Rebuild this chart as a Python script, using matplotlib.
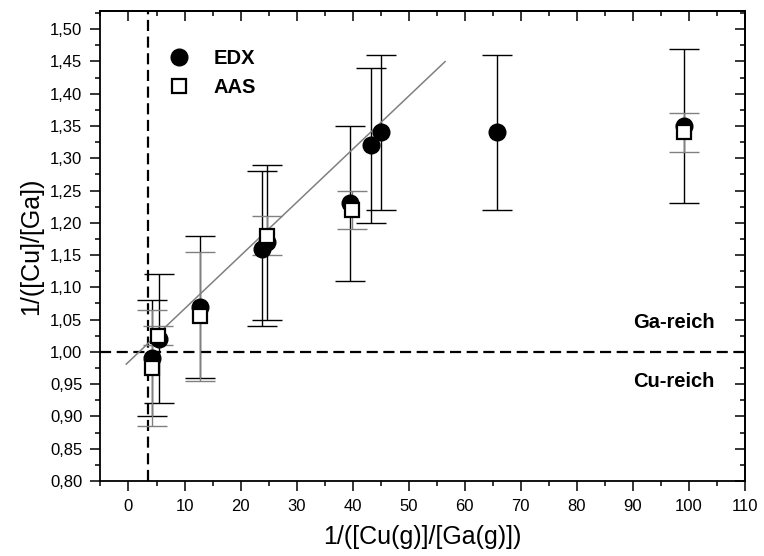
import matplotlib
matplotlib.use("Agg")
import numpy as np
import matplotlib.pyplot as plt
from matplotlib.ticker import MultipleLocator, FuncFormatter

# EDX measurements: gas-phase ratio vs. layer ratio, with y uncertainty
edx_x = [4.2, 5.4, 12.8, 23.8, 24.8, 39.6, 43.2, 45.0, 65.8, 99.2]
edx_y = [0.99, 1.02, 1.07, 1.16, 1.17, 1.23, 1.32, 1.34, 1.34, 1.35]
edx_err = [0.09, 0.10, 0.11, 0.12, 0.12, 0.12, 0.12, 0.12, 0.12, 0.12]

# AAS measurements
aas_x = [4.2, 5.2, 12.8, 24.8, 39.8, 99.2]
aas_y = [0.975, 1.025, 1.055, 1.18, 1.22, 1.34]
aas_err = [0.09, 0.015, 0.10, 0.03, 0.03, 0.03]

# linear fit of the low-ratio region
fit_intercept = 0.9843
fit_slope = 0.00824
fit_x_range = [-0.4, 56.5]

# stoichiometry reference lines
stoich_y = 1.0
stoich_x = 3.4

region_labels = ["Ga-reich", "Cu-reich"]
region_label_y = [1.046, 0.954]
region_label_x = 90.0

plt.rcParams["font.family"] = ["Liberation Sans", "DejaVu Sans"]

fig = plt.figure(figsize=(7.64, 5.56), dpi=100)
ax = fig.add_axes([0.1315, 0.135, 0.8435, 0.845])

cap = 10.5
ax.errorbar(edx_x, edx_y, yerr=edx_err, fmt="none", ecolor="black",
            elinewidth=1.0, capsize=cap, capthick=1.0, zorder=2)
ax.errorbar(aas_x, aas_y, yerr=aas_err, fmt="none", ecolor="#808080",
            elinewidth=1.0, capsize=cap, capthick=1.0, zorder=2)

fx = np.array(fit_x_range)
ax.plot(fx, fit_intercept + fit_slope * fx, color="#808080", lw=1.1, zorder=3)

ax.axhline(stoich_y, color="black", lw=1.6, ls=(0, (5, 2.5)), zorder=1)
ax.axvline(stoich_x, color="black", lw=1.6, ls=(0, (5, 2.5)), zorder=1)

ax.plot(edx_x, edx_y, "o", ms=12, color="black", mec="black", zorder=4,
        label="EDX")
ax.plot(aas_x, aas_y, "s", ms=10.5, mfc="white", mec="black", mew=1.6,
        zorder=5, label="AAS")

for txt, yy in zip(region_labels, region_label_y):
    ax.text(region_label_x, yy, txt, fontsize=14.5, fontweight="bold",
            ha="left", va="center")

ax.set_xlim(-5, 110)
ax.set_ylim(0.80, 1.528)

ax.xaxis.set_major_locator(MultipleLocator(10))
ax.xaxis.set_minor_locator(MultipleLocator(5))
ax.yaxis.set_major_locator(MultipleLocator(0.05))
ax.yaxis.set_minor_locator(MultipleLocator(0.025))
ax.yaxis.set_major_formatter(FuncFormatter(lambda v, p: f"{v:.2f}".replace(".", ",")))

ax.tick_params(which="major", direction="out", length=7, width=1.1,
               labelsize=12, pad=6)
ax.tick_params(which="minor", direction="out", length=3.6, width=1.1)
for s in ax.spines.values():
    s.set_linewidth(1.3)

# inward ticks on the top and right frame
top = ax.secondary_xaxis("top")
top.xaxis.set_major_locator(MultipleLocator(10))
top.xaxis.set_minor_locator(MultipleLocator(5))
top.tick_params(which="major", direction="in", length=7, width=1.1, labeltop=False)
top.tick_params(which="minor", direction="in", length=3.6, width=1.1)
right = ax.secondary_yaxis("right")
right.yaxis.set_major_locator(MultipleLocator(0.05))
right.yaxis.set_minor_locator(MultipleLocator(0.025))
right.tick_params(which="major", direction="in", length=7, width=1.1, labelright=False)
right.tick_params(which="minor", direction="in", length=3.6, width=1.1)
for sec in (top, right):
    for s in sec.spines.values():
        s.set_linewidth(1.3)

ax.set_xlabel("1/([Cu(g)]/[Ga(g)])", fontsize=18, labelpad=8)
ax.set_ylabel("1/([Cu]/[Ga])", fontsize=18, labelpad=5)

leg = ax.legend(loc="upper left", bbox_to_anchor=(0.0906, 0.9196), frameon=False,
                prop={"weight": "bold", "size": 14.5}, handletextpad=0.7,
                borderaxespad=0, borderpad=0, numpoints=1, labelspacing=0.5)

fig.savefig("out.png", dpi=100)
